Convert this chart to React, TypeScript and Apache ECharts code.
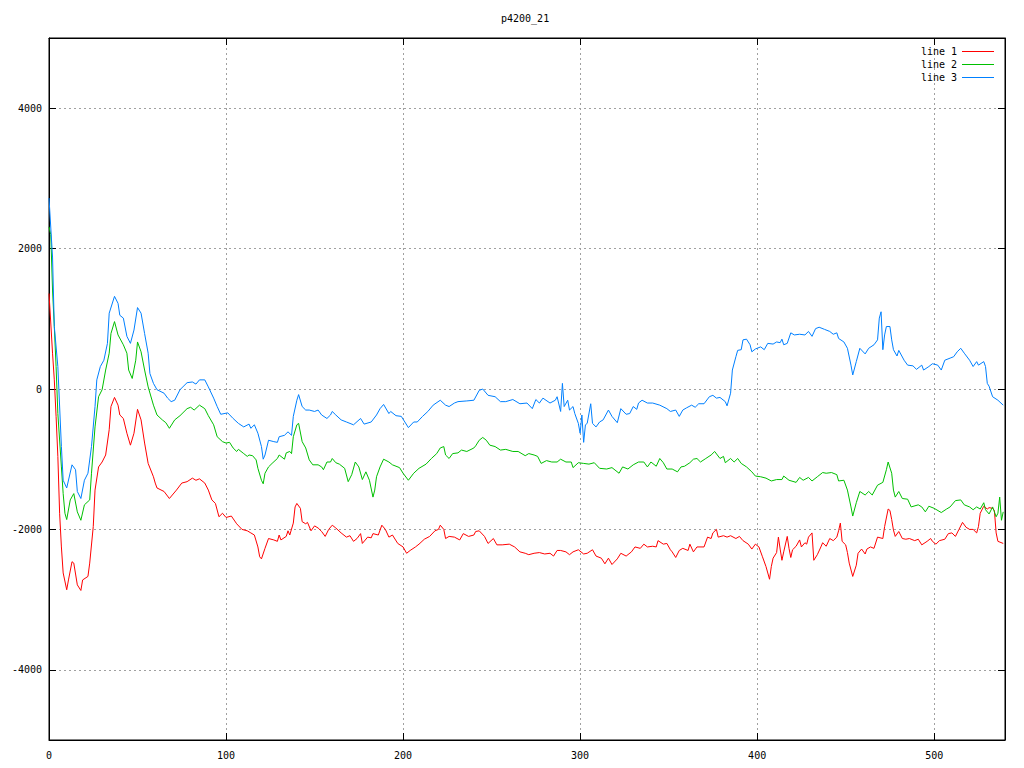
import React, { useEffect, useRef } from "react";
import * as echarts from "echarts";

const chartTitle = "p4200_21";
const seriesNames = ["line 1", "line 2", "line 3"];
const seriesColors = ["#ff0000", "#00c000", "#0080ff"];
const xTicks = [0, 100, 200, 300, 400, 500];
const yTicks = [-4000, -2000, 0, 2000, 4000];

const line1: [number, number][] = [
  [0,1360],[1,940],[2,510],[3,130],[4,-390],[5,-960],[6,-1770],[7,-2250],[8,-2620],[10,-2860],[11,-2720],[13,-2460],[14,-2480],[16,-2790],[18,-2870],[19,-2720],[22,-2670],[23,-2480],[25,-1960],[26,-1440],[28,-1110],[30,-1040],[32,-940],[34,-580],[35,-250],[37,-120],[39,-230],[40,-370],[42,-420],[44,-630],[46,-800],[48,-630],[50,-290],[52,-440],[54,-770],[56,-1060],[59,-1250],[60,-1340],[61,-1410],[65,-1460],[68,-1560],[72,-1440],[75,-1340],[78,-1320],[81,-1270],[83,-1300],[85,-1280],[88,-1340],[90,-1440],[92,-1580],[94,-1630],[96,-1820],[98,-1770],[100,-1830],[103,-1810],[106,-1920],[109,-2000],[112,-2020],[114,-2050],[116,-2080],[118,-2250],[119,-2390],[120,-2420],[122,-2270],[124,-2130],[127,-2150],[129,-2170],[130,-2080],[131,-2150],[134,-2100],[135,-2020],[136,-2080],[138,-1910],[139,-1680],[140,-1630],[142,-1700],[143,-1890],[145,-1920],[146,-1900],[148,-2020],[150,-1950],[152,-1980],[154,-2030],[156,-2100],[158,-2000],[160,-1940],[162,-1980],[165,-2050],[168,-2110],[170,-2090],[172,-2170],[174,-2130],[176,-2060],[177,-2200],[180,-2110],[182,-2120],[183,-2060],[186,-2080],[188,-1940],[190,-2000],[192,-2110],[194,-2080],[197,-2200],[200,-2250],[202,-2340],[204,-2300],[207,-2250],[209,-2210],[212,-2140],[215,-2100],[218,-2020],[220,-2000],[221,-1940],[223,-2000],[224,-2130],[226,-2100],[229,-2110],[232,-2150],[234,-2060],[237,-2100],[240,-2080],[241,-2030],[243,-2020],[246,-2100],[248,-2200],[251,-2130],[253,-2220],[256,-2220],[260,-2210],[263,-2250],[266,-2320],[269,-2340],[271,-2360],[274,-2340],[277,-2330],[280,-2350],[283,-2340],[285,-2380],[287,-2300],[289,-2300],[292,-2320],[294,-2360],[296,-2320],[299,-2290],[302,-2350],[304,-2340],[307,-2290],[309,-2380],[312,-2410],[314,-2490],[316,-2410],[318,-2500],[321,-2420],[323,-2340],[326,-2380],[329,-2320],[331,-2250],[334,-2270],[336,-2210],[338,-2250],[341,-2240],[343,-2250],[344,-2160],[347,-2210],[349,-2200],[351,-2290],[352,-2320],[354,-2400],[356,-2300],[358,-2270],[361,-2300],[362,-2210],[364,-2320],[366,-2250],[370,-2250],[372,-2110],[374,-2130],[375,-2050],[377,-2000],[378,-2110],[381,-2090],[383,-2110],[385,-2090],[388,-2130],[390,-2100],[392,-2160],[395,-2210],[397,-2280],[399,-2210],[401,-2250],[403,-2390],[405,-2530],[407,-2710],[408,-2530],[409,-2410],[411,-2330],[412,-2110],[413,-2280],[414,-2440],[415,-2320],[417,-2100],[418,-2270],[419,-2400],[420,-2290],[422,-2240],[424,-2150],[425,-2250],[427,-2190],[428,-2210],[429,-2110],[431,-2050],[432,-2440],[434,-2360],[436,-2250],[437,-2190],[439,-2240],[441,-2130],[443,-2160],[445,-2110],[446,-2020],[447,-1910],[448,-2170],[450,-2220],[451,-2330],[452,-2480],[454,-2670],[456,-2510],[457,-2340],[459,-2280],[461,-2350],[462,-2280],[464,-2250],[466,-2270],[468,-2110],[471,-2130],[472,-1960],[474,-1710],[475,-1730],[476,-1860],[477,-2010],[478,-2100],[480,-2030],[482,-2130],[484,-2140],[486,-2130],[489,-2160],[491,-2140],[493,-2220],[496,-2170],[498,-2130],[499,-2170],[501,-2210],[503,-2160],[506,-2140],[508,-2060],[510,-2050],[512,-2100],[514,-2000],[516,-1900],[518,-1970],[520,-2000],[522,-2000],[524,-2050],[525,-1960],[526,-1770],[528,-1670],[530,-1710],[531,-1690],[533,-1700],[534,-1730],[535,-2050],[536,-2170],[539,-2200]
];

const line2: [number, number][] = [
  [0,2310],[1,2200],[2,1410],[3,890],[4,320],[5,-350],[7,-1110],[8,-1490],[9,-1770],[10,-1860],[12,-1580],[14,-1490],[16,-1750],[18,-1870],[20,-1650],[23,-1580],[24,-1200],[26,-540],[28,-110],[30,-10],[32,270],[34,510],[35,790],[37,960],[39,770],[42,630],[44,510],[45,270],[47,150],[49,410],[50,670],[52,530],[54,270],[56,30],[59,-230],[61,-370],[64,-440],[66,-480],[68,-560],[71,-440],[74,-380],[78,-280],[80,-260],[82,-300],[85,-230],[88,-280],[90,-380],[93,-510],[95,-680],[98,-750],[100,-770],[102,-760],[104,-840],[106,-890],[107,-860],[110,-920],[112,-960],[113,-940],[115,-950],[117,-1010],[118,-1130],[120,-1300],[121,-1350],[122,-1200],[124,-1110],[126,-1060],[129,-990],[130,-940],[133,-1000],[134,-910],[136,-890],[137,-920],[138,-680],[140,-510],[141,-490],[143,-750],[145,-840],[147,-1010],[149,-1080],[152,-1080],[154,-1110],[155,-1150],[157,-1040],[159,-1040],[160,-990],[162,-1050],[164,-1070],[167,-1130],[169,-1320],[171,-1220],[173,-1040],[175,-1110],[177,-1290],[179,-1180],[181,-1300],[183,-1540],[184,-1440],[185,-1250],[187,-1110],[189,-1000],[192,-1040],[194,-1080],[198,-1120],[200,-1200],[203,-1300],[206,-1200],[209,-1130],[213,-1070],[216,-990],[219,-920],[221,-840],[223,-820],[224,-940],[226,-990],[228,-920],[231,-910],[233,-870],[236,-890],[240,-840],[241,-810],[243,-730],[245,-690],[247,-730],[249,-800],[252,-820],[255,-870],[258,-860],[262,-890],[265,-890],[269,-950],[271,-920],[274,-940],[276,-960],[278,-1060],[281,-1020],[284,-1040],[287,-1040],[289,-1000],[292,-1040],[295,-1040],[296,-1120],[299,-1050],[302,-1060],[305,-1070],[308,-1050],[311,-1130],[315,-1140],[318,-1120],[322,-1200],[324,-1110],[327,-1140],[330,-1080],[333,-1040],[336,-1040],[338,-1110],[340,-1040],[343,-1100],[345,-990],[347,-1050],[349,-1140],[352,-1140],[355,-1180],[357,-1110],[359,-1100],[362,-1050],[364,-1000],[366,-990],[368,-1040],[371,-990],[374,-940],[376,-890],[379,-990],[381,-960],[382,-1050],[385,-990],[387,-1040],[389,-990],[391,-1060],[394,-1110],[397,-1180],[399,-1240],[402,-1250],[405,-1270],[408,-1310],[411,-1290],[414,-1290],[415,-1240],[418,-1300],[422,-1330],[424,-1260],[426,-1300],[429,-1260],[431,-1310],[434,-1250],[437,-1190],[439,-1200],[442,-1190],[445,-1220],[446,-1310],[449,-1300],[451,-1440],[453,-1680],[454,-1810],[456,-1620],[458,-1460],[461,-1510],[463,-1460],[465,-1510],[468,-1370],[471,-1330],[473,-1150],[474,-1040],[476,-1200],[477,-1440],[478,-1540],[480,-1460],[482,-1560],[485,-1570],[487,-1680],[491,-1650],[493,-1680],[495,-1750],[497,-1670],[500,-1700],[504,-1760],[507,-1710],[509,-1680],[512,-1590],[515,-1580],[517,-1650],[520,-1680],[522,-1720],[524,-1680],[526,-1710],[528,-1620],[529,-1720],[531,-1780],[533,-1680],[535,-1820],[536,-1770],[537,-1540],[538,-1870],[539,-1750]
];

const line3: [number, number][] = [
  [0,2720],[2,1880],[3,890],[5,320],[7,-820],[8,-1300],[10,-1410],[13,-1080],[15,-1150],[16,-1460],[18,-1560],[20,-1300],[22,-1200],[24,-820],[26,-250],[27,130],[29,320],[31,410],[33,650],[34,1080],[37,1320],[39,1220],[40,1050],[42,1010],[44,750],[46,650],[48,840],[50,1160],[52,1080],[54,790],[56,510],[57,220],[59,80],[61,-10],[65,-60],[67,-130],[69,-180],[71,-160],[74,-10],[78,90],[81,100],[83,70],[85,130],[88,130],[90,30],[93,-130],[95,-250],[97,-360],[101,-340],[104,-420],[107,-490],[110,-540],[113,-500],[114,-560],[116,-510],[118,-630],[120,-820],[121,-1000],[122,-940],[124,-730],[127,-750],[129,-760],[130,-680],[133,-660],[135,-610],[137,-660],[138,-390],[140,-160],[141,-80],[143,-250],[145,-300],[147,-300],[150,-320],[152,-300],[154,-370],[157,-420],[159,-370],[160,-320],[162,-370],[165,-440],[168,-470],[172,-510],[176,-420],[178,-500],[182,-470],[185,-370],[187,-280],[189,-220],[192,-350],[193,-320],[196,-380],[199,-390],[201,-470],[203,-550],[206,-470],[208,-470],[211,-390],[214,-320],[217,-230],[221,-160],[224,-230],[226,-250],[229,-200],[231,-180],[236,-170],[240,-160],[243,-20],[245,0],[248,-90],[252,-110],[255,-180],[258,-180],[262,-150],[266,-210],[270,-200],[273,-280],[275,-150],[277,-200],[279,-130],[283,-200],[286,-160],[287,-110],[289,-320],[290,80],[291,-250],[293,-160],[294,-300],[296,-250],[297,-350],[299,-490],[300,-630],[301,-370],[302,-760],[303,-510],[304,-490],[306,-210],[307,-490],[309,-540],[311,-470],[313,-440],[316,-300],[318,-390],[321,-480],[323,-280],[326,-360],[328,-350],[330,-250],[332,-290],[333,-200],[335,-160],[338,-200],[341,-200],[345,-230],[349,-280],[351,-320],[354,-300],[356,-390],[358,-300],[360,-270],[363,-230],[365,-260],[367,-210],[370,-210],[373,-110],[375,-90],[377,-130],[379,-120],[382,-180],[383,-240],[385,-60],[386,270],[388,460],[389,550],[391,560],[392,700],[394,710],[396,630],[397,530],[399,570],[402,600],[404,560],[406,650],[409,640],[411,670],[413,660],[414,710],[415,630],[417,650],[419,800],[421,770],[424,780],[427,770],[429,820],[431,750],[433,860],[435,880],[438,850],[441,820],[443,780],[445,800],[446,720],[449,670],[451,580],[453,340],[454,200],[456,390],[458,580],[461,500],[463,580],[466,630],[468,700],[469,1010],[470,1100],[471,560],[472,770],[473,890],[475,890],[476,700],[477,560],[479,470],[480,550],[483,410],[485,340],[488,330],[490,280],[493,340],[494,270],[497,320],[499,360],[502,340],[504,270],[506,410],[509,440],[511,460],[513,530],[515,580],[517,510],[520,410],[522,320],[524,390],[525,340],[528,390],[529,320],[530,80],[531,40],[533,-110],[536,-160],[539,-230]
];

const seriesData = [line1, line2, line3];

const FONT = "'DejaVu Sans Mono', monospace";

export default function App() {
  const ref = useRef<HTMLDivElement>(null);
  useEffect(() => {
    if (!ref.current) return;
    const chart = echarts.init(ref.current, undefined, { renderer: "svg" });
    const tickStyle = { show: true, inside: true, length: 7, lineStyle: { color: "#000", width: 1 } };
    const axisLine = { show: true, onZero: false, lineStyle: { color: "#000", width: 1 } };
    const split = { show: true, lineStyle: { color: "#a0a0a0", width: 1, type: [2, 3] as any } };
    const plain = (v: number) => String(v);
    chart.setOption({
      animation: false,
      backgroundColor: "#ffffff",
      title: {
        text: chartTitle,
        left: 501,
        top: 13,
        padding: 0,
        textStyle: { fontFamily: FONT, fontSize: 10, fontWeight: "normal", color: "#000" },
      },
      legend: {
        orient: "vertical",
        right: 30,
        top: 45,
        align: "right",
        icon: "rect",
        itemWidth: 32,
        itemHeight: 1,
        itemGap: 0,
        padding: 0,
        data: seriesNames,
        textStyle: { fontFamily: FONT, fontSize: 10, color: "#000", lineHeight: 13 },
      },
      grid: { left: 49, right: 19, top: 38, bottom: 28, show: true, borderColor: "#000", borderWidth: 1, backgroundColor: "transparent" },
      xAxis: [
        {
          type: "value", min: 0, max: 540, position: "bottom",
          axisLine, axisTick: { ...tickStyle, customValues: xTicks },
          axisLabel: { customValues: xTicks, formatter: plain, fontFamily: FONT, fontSize: 10, color: "#000", margin: 10 },
          splitLine: split,
        },
        {
          type: "value", min: 0, max: 540, position: "top",
          axisLine, axisTick: { ...tickStyle, customValues: xTicks },
          axisLabel: { show: false }, splitLine: { show: false },
        },
      ],
      yAxis: [
        {
          type: "value", min: -5000, max: 5000, position: "left",
          axisLine, axisTick: { ...tickStyle, customValues: yTicks },
          axisLabel: { customValues: yTicks, formatter: plain, fontFamily: FONT, fontSize: 10, color: "#000", margin: 7 },
          splitLine: split,
        },
        {
          type: "value", min: -5000, max: 5000, position: "right",
          axisLine, axisTick: { ...tickStyle, customValues: yTicks },
          axisLabel: { show: false }, splitLine: { show: false },
        },
      ],
      series: seriesData.map((d, i) => ({
        name: seriesNames[i],
        type: "line",
        xAxisIndex: 0,
        yAxisIndex: 0,
        data: d,
        symbol: "none",
        showSymbol: false,
        color: seriesColors[i],
        itemStyle: { color: seriesColors[i] },
        lineStyle: { color: seriesColors[i], width: 1 },
        z: 2 + i,
      })),
    });
    return () => chart.dispose();
  }, []);
  return <div ref={ref} style={{ position: "fixed", left: 0, top: 0, width: 1024, height: 768 }} />;
}
